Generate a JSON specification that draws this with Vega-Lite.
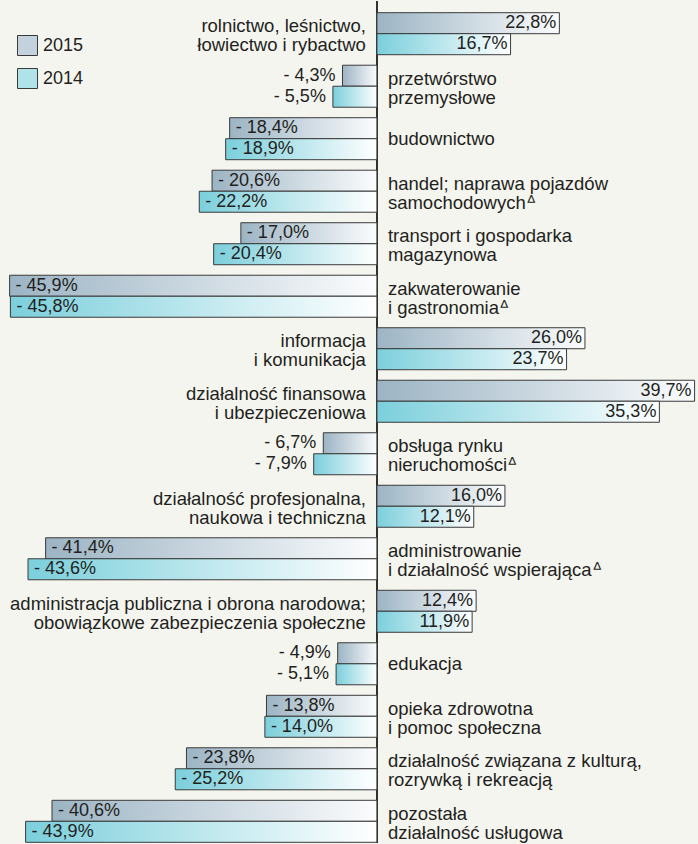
{
  "$schema": "https://vega.github.io/schema/vega-lite/v6.json",
  "width": 698,
  "height": 844,
  "autosize": {"type": "fit", "contains": "padding"},
  "padding": 0,
  "background": "#f5f5f0",
  "config": {"view": {"stroke": null}, "font": "Liberation Sans"},
  "datasets": {
    "d": [
      {"k": 1, "cat": "rolnictwo, leśnictwo,\nłowiectwo i rybactwo", "year": "2015", "value": 22.8, "lbl": "22,8%"},
      {"k": 1, "cat": "rolnictwo, leśnictwo,\nłowiectwo i rybactwo", "year": "2014", "value": 16.7, "lbl": "16,7%"},
      {"k": 2, "cat": "przetwórstwo\nprzemysłowe", "year": "2015", "value": -4.3, "lbl": "- 4,3%"},
      {"k": 2, "cat": "przetwórstwo\nprzemysłowe", "year": "2014", "value": -5.5, "lbl": "- 5,5%"},
      {"k": 3, "cat": "budownictwo", "year": "2015", "value": -18.4, "lbl": "- 18,4%"},
      {"k": 3, "cat": "budownictwo", "year": "2014", "value": -18.9, "lbl": "- 18,9%"},
      {"k": 4, "cat": "handel; naprawa pojazdów\nsamochodowychᐞ", "year": "2015", "value": -20.6, "lbl": "- 20,6%"},
      {"k": 4, "cat": "handel; naprawa pojazdów\nsamochodowychᐞ", "year": "2014", "value": -22.2, "lbl": "- 22,2%"},
      {"k": 5, "cat": "transport i gospodarka\nmagazynowa", "year": "2015", "value": -17.0, "lbl": "- 17,0%"},
      {"k": 5, "cat": "transport i gospodarka\nmagazynowa", "year": "2014", "value": -20.4, "lbl": "- 20,4%"},
      {"k": 6, "cat": "zakwaterowanie\ni gastronomiaᐞ", "year": "2015", "value": -45.9, "lbl": "- 45,9%"},
      {"k": 6, "cat": "zakwaterowanie\ni gastronomiaᐞ", "year": "2014", "value": -45.8, "lbl": "- 45,8%"},
      {"k": 7, "cat": "informacja\ni komunikacja", "year": "2015", "value": 26.0, "lbl": "26,0%"},
      {"k": 7, "cat": "informacja\ni komunikacja", "year": "2014", "value": 23.7, "lbl": "23,7%"},
      {"k": 8, "cat": "działalność finansowa\ni ubezpieczeniowa", "year": "2015", "value": 39.7, "lbl": "39,7%"},
      {"k": 8, "cat": "działalność finansowa\ni ubezpieczeniowa", "year": "2014", "value": 35.3, "lbl": "35,3%"},
      {"k": 9, "cat": "obsługa rynku\nnieruchomościᐞ", "year": "2015", "value": -6.7, "lbl": "- 6,7%"},
      {"k": 9, "cat": "obsługa rynku\nnieruchomościᐞ", "year": "2014", "value": -7.9, "lbl": "- 7,9%"},
      {"k": 10, "cat": "działalność profesjonalna,\nnaukowa i techniczna", "year": "2015", "value": 16.0, "lbl": "16,0%"},
      {"k": 10, "cat": "działalność profesjonalna,\nnaukowa i techniczna", "year": "2014", "value": 12.1, "lbl": "12,1%"},
      {"k": 11, "cat": "administrowanie\ni działalność wspierającaᐞ", "year": "2015", "value": -41.4, "lbl": "- 41,4%"},
      {"k": 11, "cat": "administrowanie\ni działalność wspierającaᐞ", "year": "2014", "value": -43.6, "lbl": "- 43,6%"},
      {"k": 12, "cat": "administracja publiczna i obrona narodowa;\nobowiązkowe zabezpieczenia społeczne", "year": "2015", "value": 12.4, "lbl": "12,4%"},
      {"k": 12, "cat": "administracja publiczna i obrona narodowa;\nobowiązkowe zabezpieczenia społeczne", "year": "2014", "value": 11.9, "lbl": "11,9%"},
      {"k": 13, "cat": "edukacja", "year": "2015", "value": -4.9, "lbl": "- 4,9%"},
      {"k": 13, "cat": "edukacja", "year": "2014", "value": -5.1, "lbl": "- 5,1%"},
      {"k": 14, "cat": "opieka zdrowotna\ni pomoc społeczna", "year": "2015", "value": -13.8, "lbl": "- 13,8%"},
      {"k": 14, "cat": "opieka zdrowotna\ni pomoc społeczna", "year": "2014", "value": -14.0, "lbl": "- 14,0%"},
      {"k": 15, "cat": "działalność związana z kulturą,\nrozrywką i rekreacją", "year": "2015", "value": -23.8, "lbl": "- 23,8%"},
      {"k": 15, "cat": "działalność związana z kulturą,\nrozrywką i rekreacją", "year": "2014", "value": -25.2, "lbl": "- 25,2%"},
      {"k": 16, "cat": "pozostała\ndziałalność usługowa", "year": "2015", "value": -40.6, "lbl": "- 40,6%"},
      {"k": 16, "cat": "pozostała\ndziałalność usługowa", "year": "2014", "value": -43.9, "lbl": "- 43,9%"}
    ]
  },
  "data": {"name": "d"},
  "encoding": {
    "y": {"field": "k", "type": "ordinal", "axis": null,
          "scale": {"paddingInner": 0.2, "paddingOuter": 0.118, "align": 0.944}}
  },
  "layer": [
    {
      "mark": {"type": "rule", "color": "#333333", "strokeWidth": 1},
      "encoding": {"x": {"datum": 0, "type": "quantitative", "scale": {"domain": [-47.1, 39.75], "nice": false, "zero": false}, "axis": null}, "y": null}
    },
    {
      "transform": [{"filter": "datum.year === '2015'"}],
      "mark": {"type": "bar", "stroke": "#3a3a3a", "strokeWidth": 1,
               "fill": {"gradient": "linear", "x1": 0, "x2": 1, "y1": 0, "y2": 0,
                        "stops": [{"offset": 0, "color": "#9cb4c4"}, {"offset": 1, "color": "#fbfcfd"}]}},
      "encoding": {
        "x": {"field": "value", "type": "quantitative", "axis": null},
        "x2": {"datum": 0},
        "yOffset": {"field": "year", "type": "nominal", "scale": {"domain": ["2015", "2014"], "paddingInner": 0, "paddingOuter": 0}}
      }
    },
    {
      "transform": [{"filter": "datum.year === '2014'"}],
      "mark": {"type": "bar", "stroke": "#3a3a3a", "strokeWidth": 1,
               "fill": {"gradient": "linear", "x1": 0, "x2": 1, "y1": 0, "y2": 0,
                        "stops": [{"offset": 0, "color": "#7bcfdc"}, {"offset": 1, "color": "#ffffff"}]}},
      "encoding": {
        "x": {"field": "value", "type": "quantitative", "axis": null},
        "x2": {"datum": 0},
        "yOffset": {"field": "year", "type": "nominal", "scale": {"domain": ["2015", "2014"], "paddingInner": 0, "paddingOuter": 0}}
      }
    },
    {
      "transform": [{"filter": "datum.value > 0"}],
      "mark": {"type": "text", "align": "right", "baseline": "middle", "dx": -3, "fontSize": 18, "font": "Liberation Sans", "color": "#231f20"},
      "encoding": {
        "x": {"field": "value", "type": "quantitative", "axis": null},
        "yOffset": {"field": "year", "type": "nominal", "scale": {"domain": ["2015", "2014"], "paddingInner": 0, "paddingOuter": 0}},
        "text": {"field": "lbl", "type": "nominal"}
      }
    },
    {
      "transform": [{"filter": "datum.value <= -10"}],
      "mark": {"type": "text", "align": "left", "baseline": "middle", "dx": 6, "fontSize": 18, "font": "Liberation Sans", "color": "#231f20"},
      "encoding": {
        "x": {"field": "value", "type": "quantitative", "axis": null},
        "yOffset": {"field": "year", "type": "nominal", "scale": {"domain": ["2015", "2014"], "paddingInner": 0, "paddingOuter": 0}},
        "text": {"field": "lbl", "type": "nominal"}
      }
    },
    {
      "transform": [{"filter": "datum.value < 0 && datum.value > -10"}],
      "mark": {"type": "text", "align": "right", "baseline": "middle", "dx": -7, "fontSize": 18, "font": "Liberation Sans", "color": "#231f20"},
      "encoding": {
        "x": {"field": "value", "type": "quantitative", "axis": null},
        "yOffset": {"field": "year", "type": "nominal", "scale": {"domain": ["2015", "2014"], "paddingInner": 0, "paddingOuter": 0}},
        "text": {"field": "lbl", "type": "nominal"}
      }
    },
    {
      "transform": [{"filter": "datum.year === '2015' && datum.value > 0 && indexof(datum.cat, '\\n') >= 0"}],
      "mark": {"type": "text", "align": "right", "baseline": "middle", "dx": -11, "dy": -7.5, "fontSize": 18.5, "lineBreak": "\n", "lineHeight": 19, "font": "Liberation Sans", "color": "#231f20"},
      "encoding": {
        "x": {"datum": 0, "type": "quantitative"},
        "text": {"field": "cat", "type": "nominal"}
      }
    },
    {
      "transform": [{"filter": "datum.year === '2015' && datum.value < 0 && indexof(datum.cat, '\\n') >= 0"}],
      "mark": {"type": "text", "align": "left", "baseline": "middle", "dx": 11, "dy": -7.5, "fontSize": 18.5, "lineBreak": "\n", "lineHeight": 19, "font": "Liberation Sans", "color": "#231f20"},
      "encoding": {
        "x": {"datum": 0, "type": "quantitative"},
        "text": {"field": "cat", "type": "nominal"}
      }
    },
    {
      "transform": [{"filter": "datum.year === '2015' && datum.value < 0 && indexof(datum.cat, '\\n') < 0"}],
      "mark": {"type": "text", "align": "left", "baseline": "middle", "dx": 11, "fontSize": 18.5, "font": "Liberation Sans", "color": "#231f20"},
      "encoding": {
        "x": {"datum": 0, "type": "quantitative"},
        "text": {"field": "cat", "type": "nominal"}
      }
    },
    {
      "mark": {"type": "square", "opacity": 0},
      "encoding": {
        "x": {"field": "value", "type": "quantitative"},
        "color": {"field": "year", "type": "nominal",
          "scale": {"domain": ["2015", "2014"], "range": ["#c3d2dc", "#b0e2ea"]},
          "legend": {"orient": "none", "legendX": 17, "legendY": 34, "title": null, "direction": "vertical",
                     "symbolType": "square", "symbolSize": 400, "symbolStrokeColor": "#3a3a3a", "symbolStrokeWidth": 1,
                     "symbolOpacity": 1, "labelFontSize": 18, "labelFont": "Liberation Sans", "labelColor": "#231f20",
                     "labelOffset": 5, "rowPadding": 8, "padding": 0}
        }
      }
    }
  ]
}
